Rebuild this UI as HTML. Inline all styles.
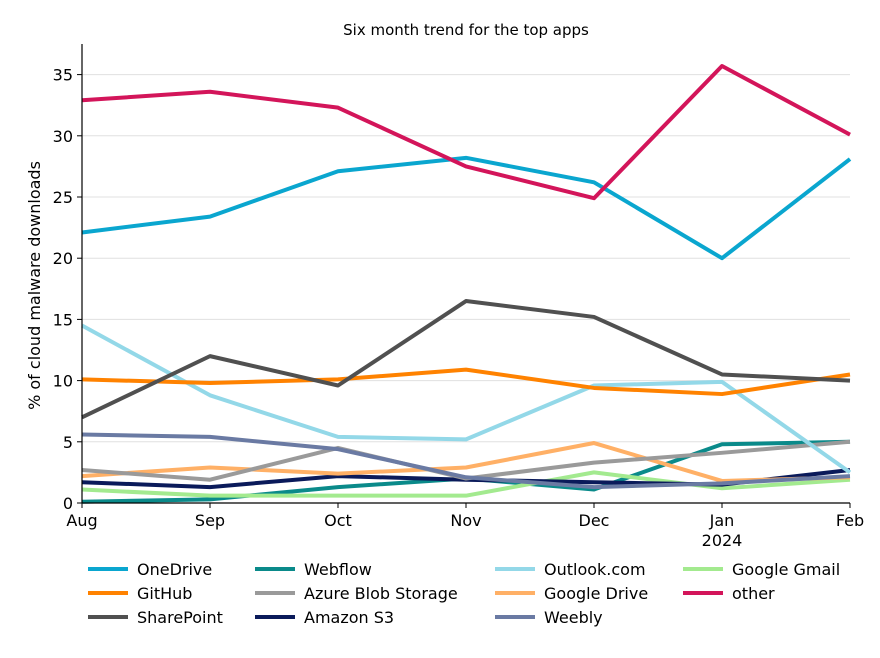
<!DOCTYPE html>
<html><head><meta charset="utf-8"><style>
body{margin:0;background:#fff;font-family:"Liberation Sans","DejaVu Sans",sans-serif;}
svg text{font-family:"DejaVu Sans","Liberation Sans",sans-serif;}
</style></head><body>
<svg id="c" width="880" height="653"></svg>
<script>
const months=["Aug","Sep","Oct","Nov","Dec","Jan","Feb"];
const yTicks=[0,5,10,15,20,25,30,35];
const seriesNames=["OneDrive","GitHub","SharePoint","Webflow","Azure Blob Storage","Amazon S3","Outlook.com","Google Drive","Weebly","Google Gmail","other"];
const seriesColors=["#0aa6cf","#ff8200","#505050","#0a8a8a","#9a9a9a","#0a1a5a","#93d8e8","#ffb066","#6a7aa3","#a3ea8f","#d3155a"];
const oneDrive=[22.1,23.4,27.1,28.2,26.2,20.0,28.1];
const gitHub=[10.1,9.8,10.1,10.9,9.4,8.9,10.5];
const sharePoint=[7.0,12.0,9.6,16.5,15.2,10.5,10.0];
const webflow=[0.1,0.3,1.3,2.0,1.1,4.8,5.0];
const azure=[2.7,1.9,4.5,2.0,3.3,4.1,5.0];
const amazonS3=[1.7,1.3,2.2,1.9,1.7,1.5,2.7];
const outlook=[14.5,8.8,5.4,5.2,9.6,9.9,2.5];
const googleDrive=[2.2,2.9,2.4,2.9,4.9,1.8,2.1];
const weebly=[5.6,5.4,4.4,2.1,1.3,1.6,2.2];
const gmail=[1.1,0.6,0.6,0.6,2.5,1.2,1.9];
const other=[32.9,33.6,32.3,27.5,24.9,35.7,30.1];
const seriesData=[oneDrive,gitHub,sharePoint,webflow,azure,amazonS3,outlook,googleDrive,weebly,gmail,other];
const drawOrder=[3,9,5,7,4,8,6,1,2,0,10];

const NS="http://www.w3.org/2000/svg";
const svg=document.getElementById('c');
const L=82,R=850,T=44,B=503,YMAX=37.5;
const x=i=>L+(R-L)*i/(months.length-1);
const y=v=>B-(B-T)*v/YMAX;
function mk(t,a,p){const e=document.createElementNS(NS,t);for(const k in a)e.setAttribute(k,a[k]);(p||svg).appendChild(e);return e;}

const title=mk('text',{x:466,y:35,'text-anchor':'middle','font-size':15,fill:'#000'});
title.textContent="Six month trend for the top apps";



yTicks.forEach(v=>{
  const g=mk('line',{x1:L,x2:R,y1:y(v),y2:y(v),stroke:'#e0e0e0','stroke-width':1});
  
  
  mk('line',{x1:L-5,x2:L,y1:y(v),y2:y(v),stroke:'#000'});
  const t=mk('text',{x:L-9,y:y(v)+6,'text-anchor':'end','font-size':16});
  t.textContent=v;
  
  
});
months.forEach((m,i)=>{
  mk('line',{x1:x(i),x2:x(i),y1:B,y2:B+5,stroke:'#000'});
  const t=mk('text',{x:x(i),y:B+23,'text-anchor':'middle','font-size':16});
  t.textContent=m;
  
  
});
const yr=mk('text',{x:x(5),y:B+43,'text-anchor':'middle','font-size':16});
yr.textContent="2024";



const yt=mk('text',{x:0,y:0,'text-anchor':'middle','font-size':16,transform:`translate(40,${(T+B)/2+12}) rotate(-90)`});
yt.textContent="% of cloud malware downloads";



drawOrder.forEach(s=>{
  const p=mk('polyline',{points:seriesData[s].map((v,i)=>x(i)+','+y(v)).join(' '),fill:'none',stroke:seriesColors[s],'stroke-width':4,'stroke-linejoin':'round'});
  
  
});

mk('line',{x1:L,x2:L,y1:T,y2:B,stroke:'#000','stroke-width':1.2});
mk('line',{x1:L,x2:R,y1:B,y2:B,stroke:'#000','stroke-width':1.2});

const colX=[88,255,495,683];
const rowY=[569,593,617];
const legendLayout=[[0,0],[1,0],[2,0],[0,1],[1,1],[2,1],[0,2],[1,2],[2,2],[0,3],[1,3]];
legendLayout.forEach(([r,c],s)=>{
  const g=mk('g',{});
  
  
  mk('line',{x1:colX[c],x2:colX[c]+40,y1:rowY[r],y2:rowY[r],stroke:seriesColors[s],'stroke-width':4},g);
  const t=mk('text',{x:colX[c]+49,y:rowY[r]+6,'font-size':16},g);
  t.textContent=seriesNames[s];
});
</script>
</body></html>
